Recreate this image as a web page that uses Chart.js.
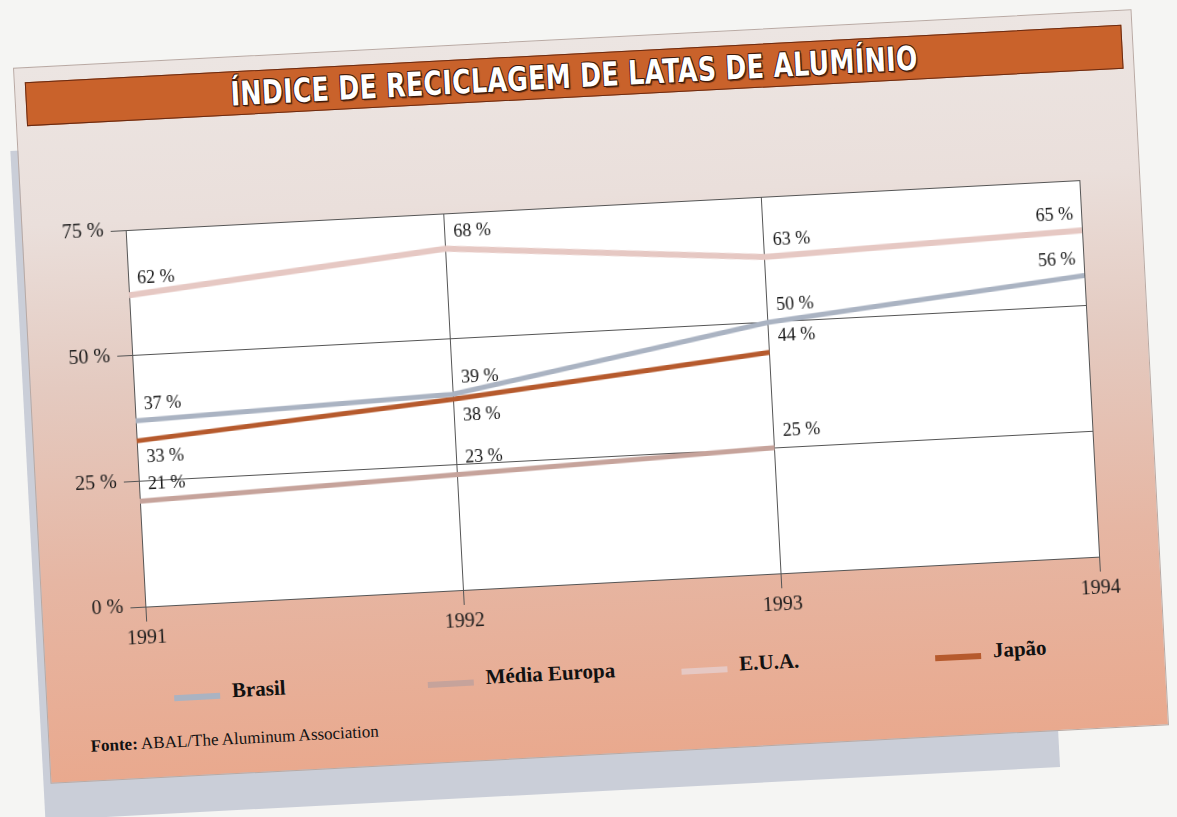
<!DOCTYPE html>
<html lang="pt">
<head>
<meta charset="utf-8">
<title>Índice de reciclagem de latas de alumínio</title>
<script src="https://cdn.jsdelivr.net/npm/chart.js@4.4.0/dist/chart.umd.min.js"></script>
<style>
  html, body {
    margin: 0;
    width: 1177px;
    height: 817px;
    overflow: hidden;
    background: #f5f5f3;
  }
  #stage {
    position: absolute;
    left: 31px;
    top: 38px;
    width: 1120px;
    height: 717px;
    transform: rotate(-3deg);
    transform-origin: 50% 50%;
  }
  .sheet {
    position: absolute;
    left: -7px;
    top: 83px;
    width: 1016px;
    height: 670px;
    background: #caced8;
  }
  .card {
    position: absolute;
    left: 0;
    top: 0;
    width: 1120px;
    height: 717px;
    box-sizing: border-box;
    border: 1px solid #b9a9a3;
    background: linear-gradient(to bottom, #ece5e2 0%, #eadfdb 22%, #e4cac0 45%, #e6b6a3 72%, #e9a98e 100%);
  }
  .titlebar {
    position: absolute;
    left: 10px;
    top: 14px;
    width: 1098px;
    height: 44px;
    box-sizing: border-box;
    border: 1px solid #6a2b12;
    background: #c9622b;
    display: flex;
    align-items: center;
    justify-content: center;
  }
  .titlebar span {
    display: inline-block;
    font-family: "DejaVu Sans", sans-serif;
    font-weight: bold;
    font-size: 33px;
    color: #fff;
    white-space: nowrap;
    letter-spacing: 0.5px;
    text-shadow: 1px 1px 0 #3d1a0b, -1px -1px 0 #3d1a0b, 1px -1px 0 #3d1a0b, -1px 1px 0 #3d1a0b, 2px 2px 1px rgba(40, 15, 5, 0.6);
  }
  .chartbox {
    position: absolute;
    left: 0;
    top: 140px;
    width: 1120px;
    height: 460px;
  }
  #legend {
    position: absolute;
    left: 127px;
    top: 620px;
    display: flex;
  }
  .legend-item {
    width: 254px;
    display: flex;
    align-items: center;
    font-family: "Liberation Serif", serif;
    font-weight: bold;
    font-size: 21px;
    color: #111;
  }
  .legend-swatch {
    width: 46px;
    height: 6px;
    margin-right: 12px;
    position: relative;
    top: 4px;
  }
  .source {
    position: absolute;
    left: 41px;
    top: 671px;
    font-family: "Liberation Serif", serif;
    font-size: 17px;
    line-height: 20px;
    color: #111;
  }
</style>
</head>
<body>
<div id="stage">
  <div class="sheet"></div>
  <div class="card">
    <div class="titlebar"><span id="title">ÍNDICE DE RECICLAGEM DE LATAS DE ALUMÍNIO</span></div>
    <div class="chartbox"><canvas id="chart" width="1120" height="460"></canvas></div>
    <div id="legend"></div>
    <div class="source"><b>Fonte:</b> ABAL/The Aluminum Association</div>
  </div>
</div>
<script>
const years = ["1991", "1992", "1993", "1994"];
const brasil = [37, 39, 50, 56];
const mediaEuropa = [21, 23, 25];
const eua = [62, 68, 63, 65];
const japao = [33, 38, 44];
const yTicks = [0, 25, 50, 75];

// which labels sit under the line instead of above it
const japaoLabelBelow = [true, true, false];

document.addEventListener("DOMContentLoaded", () => {
  const title = document.getElementById("title");
  title.style.transform = "scaleX(" + (688 / title.offsetWidth) + ")";

  const SERIF = "'Liberation Serif', 'Times New Roman', serif";
  const GRID = "#555555";

  const plotBackground = {
    id: "plotBackground",
    beforeDraw(chart) {
      const { ctx, chartArea } = chart;
      ctx.save();
      ctx.fillStyle = "#ffffff";
      ctx.fillRect(chartArea.left, chartArea.top, chartArea.right - chartArea.left, chartArea.bottom - chartArea.top);
      ctx.restore();
    },
  };

  const valueLabels = {
    id: "valueLabels",
    afterDatasetsDraw(chart) {
      const { ctx, chartArea } = chart;
      ctx.save();
      ctx.font = "18px " + SERIF;
      ctx.fillStyle = "#161616";
      ctx.textBaseline = "middle";
      chart.data.datasets.forEach((ds, i) => {
        const meta = chart.getDatasetMeta(i);
        meta.data.forEach((pt, j) => {
          const v = ds.data[j];
          if (v == null) return;
          const atRight = pt.x > chartArea.right - 2;
          const below = ds.labelBelow && ds.labelBelow[j];
          ctx.textAlign = atRight ? "right" : "left";
          const x = atRight ? pt.x - 8 : pt.x + 9;
          const y = below ? pt.y + 17 : pt.y - 16;
          ctx.fillText(v + " %", x, y);
        });
      });
      ctx.restore();
    },
  };

  const chart = new Chart(document.getElementById("chart"), {
    type: "line",
    data: {
      labels: years,
      datasets: [
        { label: "Brasil", data: brasil, borderColor: "#aab3c2", borderWidth: 5 },
        { label: "Média Europa", data: mediaEuropa, borderColor: "#c6a39b", borderWidth: 5 },
        { label: "E.U.A.", data: eua, borderColor: "#e6c8c3", borderWidth: 6 },
        { label: "Japão", data: japao, borderColor: "#b65a2d", borderWidth: 5, labelBelow: japaoLabelBelow },
      ],
    },
    options: {
      responsive: false,
      animation: false,
      devicePixelRatio: 1,
      elements: {
        point: { radius: 0, hoverRadius: 0 },
        line: { tension: 0, borderCapStyle: "butt" },
      },
      layout: { padding: { top: 27, right: 62, bottom: 12, left: 0 } },
      plugins: {
        legend: { display: false },
        tooltip: { enabled: false },
      },
      scales: {
        x: {
          type: "category",
          offset: false,
          afterFit: (scale) => { scale.height = 44; },
          grid: { color: GRID, lineWidth: 1, tickLength: 15 },
          border: { color: GRID, width: 1 },
          ticks: { color: "#1a1a1a", font: { family: SERIF, size: 20 }, padding: 5, maxRotation: 0 },
        },
        y: {
          min: 0,
          max: 75,
          afterFit: (scale) => { scale.width = 103; },
          afterBuildTicks: (scale) => { scale.ticks = yTicks.map((v) => ({ value: v })); },
          grid: { color: GRID, lineWidth: 1, tickLength: 15 },
          border: { color: GRID, width: 1 },
          ticks: {
            color: "#1a1a1a",
            font: { family: SERIF, size: 20 },
            padding: 7,
            callback: (v) => v + " %",
          },
        },
      },
    },
    plugins: [plotBackground, valueLabels],
  });

  const legend = document.getElementById("legend");
  chart.data.datasets.forEach((ds) => {
    const item = document.createElement("div");
    item.className = "legend-item";
    const sw = document.createElement("span");
    sw.className = "legend-swatch";
    sw.style.background = ds.borderColor;
    const txt = document.createElement("span");
    txt.textContent = ds.label;
    item.appendChild(sw);
    item.appendChild(txt);
    legend.appendChild(item);
  });
});
</script>
</body>
</html>
